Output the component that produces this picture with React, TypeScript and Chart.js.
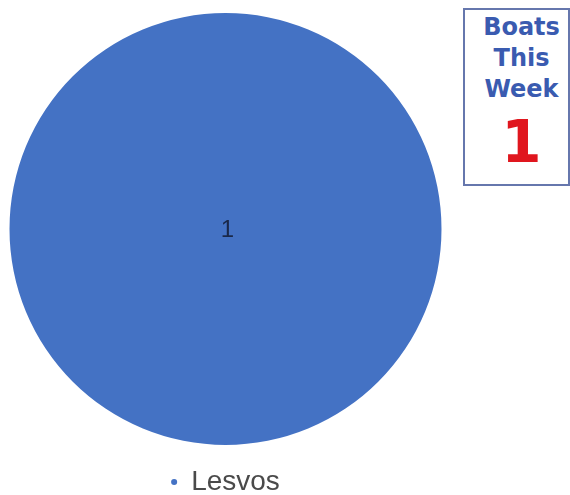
import React, { useEffect, useRef } from "react";
import { Chart, registerables } from "chart.js";

Chart.register(...registerables);

const categories: string[] = ["Lesvos"];
const boatValues: number[] = [1];
const sliceColors: string[] = ["#4472c4"];
const boxTitleLines: string[] = ["Boats", "This", "Week"];

const sliceLabelPlugin = {
  id: "sliceLabels",
  afterDatasetsDraw(chart: any) {
    const ctx = chart.ctx;
    const meta = chart.getDatasetMeta(0);
    meta.data.forEach((arc: any, i: number) => {
      const p = arc.getProps(["x", "y", "circumference"], true);
      let x: number;
      let y: number;
      if (p.circumference >= 2 * Math.PI - 1e-6) {
        x = p.x;
        y = p.y;
      } else {
        const pos = arc.tooltipPosition(true);
        x = pos.x;
        y = pos.y;
      }
      ctx.save();
      ctx.font = '24px "Liberation Sans", Arial, sans-serif';
      ctx.fillStyle = "#1a2849";
      ctx.textAlign = "center";
      ctx.textBaseline = "middle";
      ctx.fillText(String(chart.data.datasets[0].data[i]), x + 2, y + 1);
      ctx.restore();
    });
  },
};

export default function App() {
  const canvasRef = useRef<HTMLCanvasElement | null>(null);

  useEffect(() => {
    if (!canvasRef.current) return;
    const chart = new Chart(canvasRef.current, {
      type: "pie",
      data: {
        labels: categories,
        datasets: [
          {
            data: boatValues,
            backgroundColor: sliceColors,
            borderWidth: 0,
          },
        ],
      },
      options: {
        responsive: false,
        animation: false,
        layout: { padding: { top: 13, bottom: 0, left: 0, right: 0 } },
        plugins: {
          tooltip: { enabled: false },
          legend: {
            display: true,
            position: "bottom",
            labels: {
              usePointStyle: true,
              pointStyle: "circle",
              boxWidth: 6,
              boxHeight: 4.3,
              padding: 23,
              color: "#4a4a4a",
              font: { family: '"Liberation Sans", Arial, sans-serif', size: 28 },
            },
          },
        },
      },
      plugins: [sliceLabelPlugin],
    });
    return () => chart.destroy();
  }, []);

  const total = boatValues.reduce((a, b) => a + b, 0);

  return (
    <div
      style={{
        position: "absolute",
        left: 0,
        top: 0,
        width: 570,
        height: 495,
        overflow: "hidden",
        background: "#ffffff",
      }}
    >
      <canvas
        ref={canvasRef}
        width={451}
        height={506}
        style={{ position: "absolute", left: 0, top: 0, display: "block" }}
      />
      <div
        style={{
          position: "absolute",
          left: 463,
          top: 8,
          width: 107,
          height: 178,
          boxSizing: "border-box",
          border: "2px solid #6677ad",
          paddingTop: 2,
          paddingLeft: 10,
          textAlign: "center",
          fontFamily: '"DejaVu Sans", sans-serif',
          fontWeight: "bold",
        }}
      >
        {boxTitleLines.map((t) => (
          <div key={t} style={{ fontSize: 24, lineHeight: "31px", color: "#3a5bb0" }}>
            {t}
          </div>
        ))}
        <div
          style={{
            fontSize: 58,
            lineHeight: "58px",
            color: "#e0161e",
            marginTop: 8,
          }}
        >
          {total}
        </div>
      </div>
    </div>
  );
}
